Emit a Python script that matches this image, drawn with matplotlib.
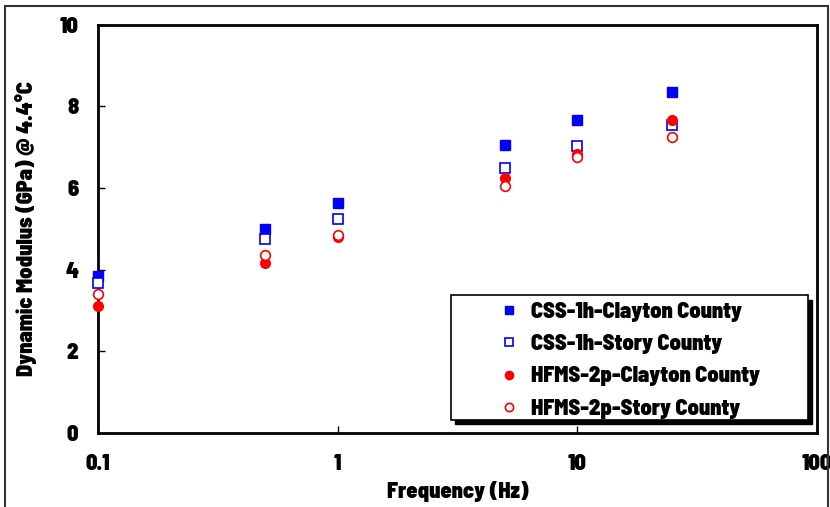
import matplotlib.pyplot as plt
from matplotlib.patches import Rectangle
from matplotlib.ticker import FixedLocator, NullLocator

plt.rcParams['font.family'] = ['Barlow Semi Condensed', 'DejaVu Sans']
plt.rcParams['font.weight'] = 900
plt.rcParams['axes.labelweight'] = 900

freq = [0.1, 0.5, 1, 5, 10, 25]
css_clayton = [3.85, 4.99, 5.63, 7.05, 7.66, 8.36]
css_story = [3.67, 4.75, 5.24, 6.50, 7.03, 7.55]
hfms_clayton = [3.12, 4.17, 4.81, 6.24, 6.83, 7.67]
hfms_story = [3.41, 4.36, 4.85, 6.04, 6.77, 7.26]

fig = plt.figure(figsize=(8.3, 5.07), dpi=100)
ax = fig.add_axes([0.118, 0.146, 0.866, 0.805])

ms = 7
ax.plot(freq, css_clayton, 's', color='#0000ff', ms=ms, mec='#0000ff',
        label='CSS-1h-Clayton County', clip_on=False)
ax.plot(freq, css_story, 's', mfc='white', mec='#0000ff', mew=1.2, ms=ms,
        label='CSS-1h-Story County', clip_on=False)
ax.plot(freq, hfms_clayton, 'o', color='#ff0000', ms=ms, mec='#ff0000',
        label='HFMS-2p-Clayton County', clip_on=False)
ax.plot(freq, hfms_story, 'o', mfc='white', mec='#ff0000', mew=1.2, ms=ms,
        label='HFMS-2p-Story County', clip_on=False)

ax.set_xscale('log')
ax.set_xlim(0.1, 100)
ax.set_ylim(0, 10)
ax.xaxis.set_major_locator(FixedLocator([0.1, 1, 10, 100]))
ax.xaxis.set_major_formatter(plt.FuncFormatter(lambda v, p: '%g' % v))
ax.xaxis.set_minor_locator(NullLocator())
ax.set_yticks([0, 2, 4, 6, 8, 10])

for s in ax.spines.values():
    s.set_linewidth(2)
    s.set_zorder(1)
ax.tick_params(direction='in', length=5, width=1, labelsize=16, pad=14)
ax.tick_params(axis='x', pad=15)

ax.set_xlabel('Frequency (Hz)', fontsize=16, labelpad=5)
ax.set_ylabel('Dynamic Modulus (GPa) @ 4.4°C', fontsize=16, labelpad=16)

# legend box with a hard black shadow, like the spreadsheet original
x0, x1, y0, y1 = 0.491, 0.9875, 0.032, 0.338
ax.add_patch(Rectangle((x0 + 0.006, y0 - 0.011), x1 - x0, y1 - y0,
                       transform=ax.transAxes, facecolor='black',
                       edgecolor='black', zorder=4.4, clip_on=False))
ax.add_patch(Rectangle((x0, y0), x1 - x0, y1 - y0, transform=ax.transAxes,
                       facecolor='white', edgecolor='black', linewidth=1.2,
                       zorder=4.5, clip_on=False))

leg = ax.legend(loc='center',
                bbox_to_anchor=((x0 + x1) / 2, (y0 + y1) / 2 - 0.007),
                fontsize=16, frameon=False, borderpad=0, labelspacing=0.55,
                handletextpad=0.5, handlelength=1.0, borderaxespad=0,
                markerscale=0.85)
leg.set_zorder(5)

fig.patches.append(Rectangle((5 / 830, -0.01), 823 / 830, 1 - 6 / 507 + 0.01,
                             transform=fig.transFigure, fill=False,
                             edgecolor='#333333', linewidth=1.5))

fig.savefig('out.png', dpi=100)
